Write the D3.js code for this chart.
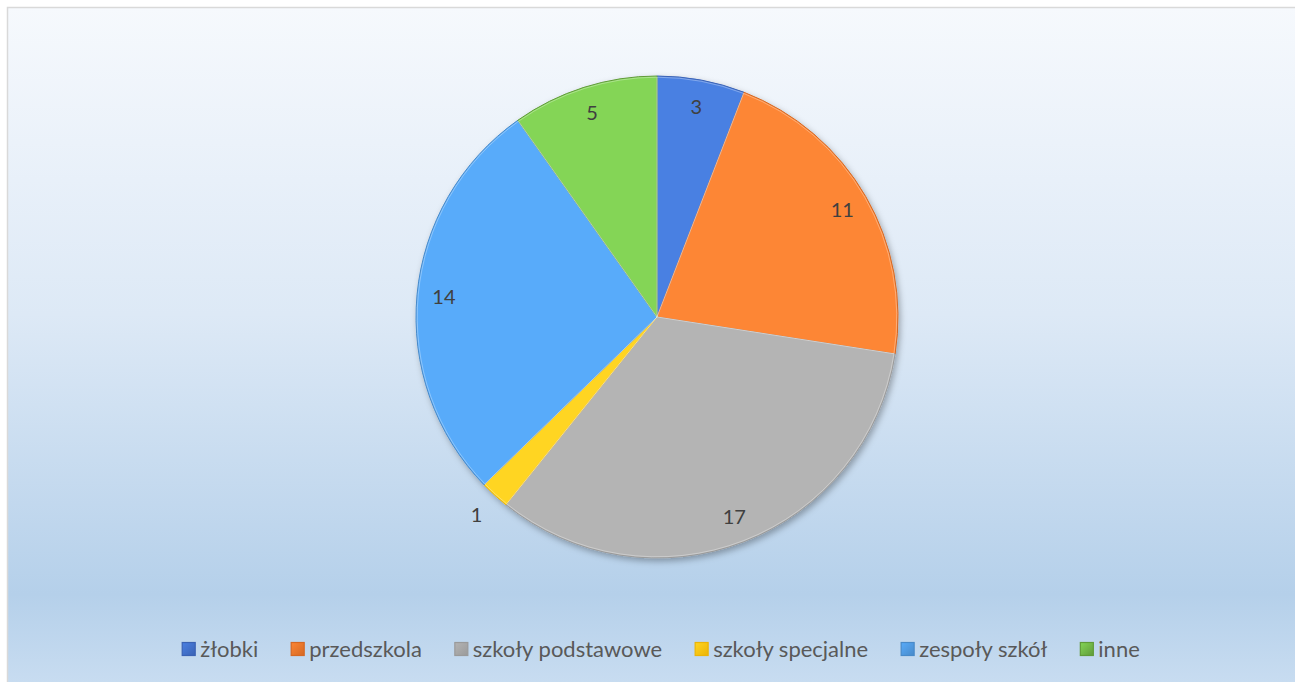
<!DOCTYPE html>
<html><head><meta charset="utf-8">
<script src="https://cdn.jsdelivr.net/npm/d3@7/dist/d3.min.js"></script>
<style>html,body{margin:0;padding:0;background:#fff;overflow:hidden}</style>
</head><body>
<svg id="c" width="1295" height="682"></svg>
<script>
const categories = ["żłobki","przedszkola","szkoły podstawowe","szkoły specjalne","zespoły szkół","inne"];
const values = [3, 11, 17, 1, 14, 5];
const colorsLight = ["#4a80e2","#fd8634","#b4b4b4","#ffd520","#58abfa","#84d557"];
const colorsDark  = ["#3a62b4","#d56824","#9a9a9a","#ecb406","#488ac9","#609b39"];

const W = 1295, H = 682;
const svg = d3.select("#c");
const defs = svg.append("defs");

const bg = defs.append("linearGradient").attr("id","bg").attr("x1",0).attr("y1",0).attr("x2",0).attr("y2",1);
[[0,"#f6f9fd"],[0.45,"#dde9f6"],[0.86,"#b5d0ea"],[1,"#c9ddf1"]].forEach(s=>bg.append("stop").attr("offset",s[0]).attr("stop-color",s[1]));
svg.append("rect").attr("x",7.5).attr("y",7.5).attr("width",W).attr("height",H).attr("fill","url(#bg)").attr("stroke","#d9d9d9").attr("stroke-width",1.5);

const cx = 657, cy = 317, R = 241;

const sh = defs.append("filter").attr("id","sh").attr("x","-20%").attr("y","-20%").attr("width","140%").attr("height","140%");
sh.append("feDropShadow").attr("dx",2).attr("dy",3).attr("stdDeviation",3).attr("flood-color","#000").attr("flood-opacity",0.3);

values.forEach((v,i)=>{
  const g = defs.append("linearGradient").attr("id","g"+i)
    .attr("gradientUnits","userSpaceOnUse")
    .attr("x1",cx-R*0.7).attr("y1",cy-R*0.7).attr("x2",cx+R*0.7).attr("y2",cy+R*0.7);
  g.append("stop").attr("offset",0).attr("stop-color",colorsLight[i]);
  g.append("stop").attr("offset",1).attr("stop-color",colorsDark[i]);
});

const pie = d3.pie().sort(null).value(d=>d)(values);
const arc = d3.arc().innerRadius(0).outerRadius(R);
const total = d3.sum(values);

const gp = svg.append("g").attr("transform",`translate(${cx},${cy})`);
gp.append("g").attr("filter","url(#sh)").selectAll("path").data(pie).join("path")
  .attr("d",arc).attr("fill",(d,i)=>`url(#g${i})`)
  .attr("stroke",(d,i)=>colorsDark[i]).attr("stroke-width",1).attr("stroke-linejoin","round");
gp.append("g").selectAll("path").data(pie).join("path")
  .attr("d",d3.arc().innerRadius(0).outerRadius(R-1.2)).attr("fill","none").attr("stroke","rgba(255,255,255,0.4)").attr("stroke-width",0.8);

const labIn = d3.arc().innerRadius(214).outerRadius(214);
const labOut = d3.arc().innerRadius(268).outerRadius(268);
gp.selectAll("text").data(pie).join("text")
  .attr("transform",d=>{
    const a = (d.value/total<0.05)? labOut : labIn;
    const p = a.centroid(d); return `translate(${p[0]},${p[1]})`;})
  .attr("text-anchor","middle").attr("dy","0.35em")
  .style("font-family","Lato, 'Open Sans', sans-serif").style("font-size","20px").attr("fill","#404040")
  .text(d=>d.value);

const lg = svg.append("g");
const fs = 22, sq = 13, gap = 33;
let x = 0;
categories.forEach((c,i)=>{
  const it = lg.append("g");
  const lgr = defs.append("linearGradient").attr("id","lg"+i).attr("x1",0).attr("y1",0).attr("x2",1).attr("y2",1);
  lgr.append("stop").attr("offset",0).attr("stop-color",colorsLight[i]);
  lgr.append("stop").attr("offset",1).attr("stop-color",colorsDark[i]);
  it.append("rect").attr("x",x).attr("y",-sq/2).attr("width",sq).attr("height",sq)
    .attr("fill",`url(#lg${i})`).attr("stroke",colorsDark[i]).attr("stroke-width",1.2);
  const t = it.append("text").attr("x",x+sq+5).attr("y",0).attr("dy","0.35em")
    .style("font-family","Lato, 'Open Sans', sans-serif").style("font-size",fs+"px").attr("fill","#595959").text(c);
  const w = t.node().getComputedTextLength();
  x += sq + 5 + w + gap;
});
const lw = x - gap;
lg.attr("transform",`translate(${661 - lw/2},649)`);
</script>
</body></html>
